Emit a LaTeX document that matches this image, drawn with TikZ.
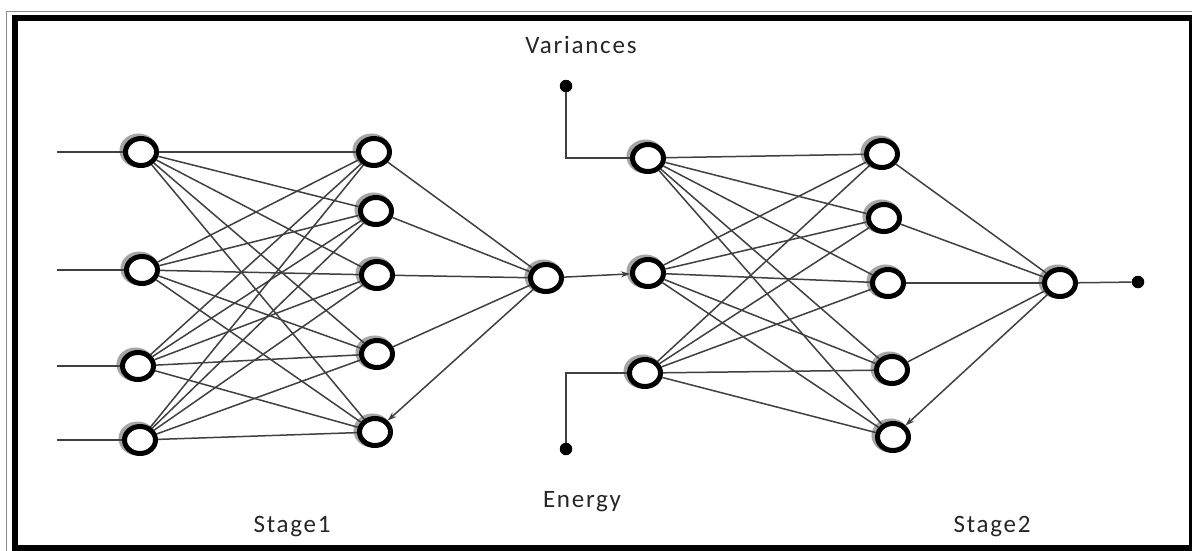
\documentclass[tikz,border=0pt]{standalone}
\usepackage{fontspec}
\setmainfont{Carlito}[LetterSpace=7]
\usetikzlibrary{shapes.geometric,arrows.meta}
\begin{document}
\begin{tikzpicture}[x=1pt,y=-1pt,
  neuron/.style={ellipse, minimum width=31pt, minimum height=27pt, inner sep=0pt,
    draw=black, line width=5pt, fill=white,
    preaction={draw=black!35, line width=7pt, transform canvas={shift={(-2.5pt,1.5pt)}}}},
  wire/.style={draw=black!75, line width=1.5pt},
  arr/.style={wire, -{Stealth[length=9pt,width=6pt]}},
  dot/.style={circle, fill=black, inner sep=0pt, minimum size=12.5pt},
  lbl/.style={font=\fontsize{25}{28}\selectfont, text=black!85, anchor=base, inner sep=0pt}]
\useasboundingbox (0,0) rectangle (1192,550);
\fill[white] (0,0) rectangle (1192,550);
% frame
\draw[black!45, line width=1.5pt] (6.5,560) -- (6.5,11.5) -- (1200,11.5);
\draw[black, line width=6pt] (14.5,17.5) rectangle (1191.5,548);
% stage 1 nodes
\node[neuron] (A1) at (141,152) {};
\node[neuron] (A2) at (142,270) {};
\node[neuron] (A3) at (138,366) {};
\node[neuron] (A4) at (140,440) {};
\node[neuron] (B1) at (374,152) {};
\node[neuron] (B2) at (376,211) {};
\node[neuron] (B3) at (377,275) {};
\node[neuron] (B4) at (377,354) {};
\node[neuron] (B5) at (375,432) {};
\node[neuron] (C) at (546,278) {};
% stage 2 nodes
\node[neuron] (D1) at (648,158) {};
\node[neuron] (D2) at (648,273) {};
\node[neuron] (D3) at (645,373) {};
\node[neuron] (E1) at (882,154) {};
\node[neuron] (E2) at (884,218) {};
\node[neuron] (E3) at (888,283) {};
\node[neuron] (E4) at (892,370) {};
\node[neuron] (E5) at (893,437) {};
\node[neuron] (F) at (1060,283) {};
% input points
\coordinate (I1) at (57,152);
\coordinate (I2) at (57,270);
\coordinate (I3) at (57,366);
\coordinate (I4) at (57,440);
\node[dot] (V) at (566,86) {};
\node[dot] (En) at (566,449) {};
\node[dot] (Out) at (1138,282) {};
\coordinate (Vc) at (566,158);
\coordinate (Ec) at (566,373);
% texts
\node[lbl] (tV) at (581,53) {Variances};
\node[lbl] (tE) at (582,507) {Energy};
\node[lbl] (t1) at (292,532) {Stage1};
\node[lbl] (t2) at (992,532) {Stage2};
% connectors
\foreach \i in {1,...,4} \draw[wire] (I\i) -- (A\i);
\foreach \i in {1,...,4} \foreach \j in {1,...,5} \draw[wire] (A\i) -- (B\j);
\foreach \j in {1,...,4} \draw[wire] (B\j) -- (C);
\draw[arr] (C) -- (B5);
\draw[arr] (C) -- (D2);
\foreach \i in {1,...,3} \foreach \j in {1,...,5} \draw[wire] (D\i) -- (E\j);
\foreach \j in {1,...,4} \draw[wire] (E\j) -- (F);
\draw[arr] (F) -- (E5);
\draw[wire] (F) -- (Out);
\draw[wire] (V) -- (Vc) -- (D1);
\draw[wire] (En) -- (Ec) -- (D3);
\end{tikzpicture}
\end{document}
